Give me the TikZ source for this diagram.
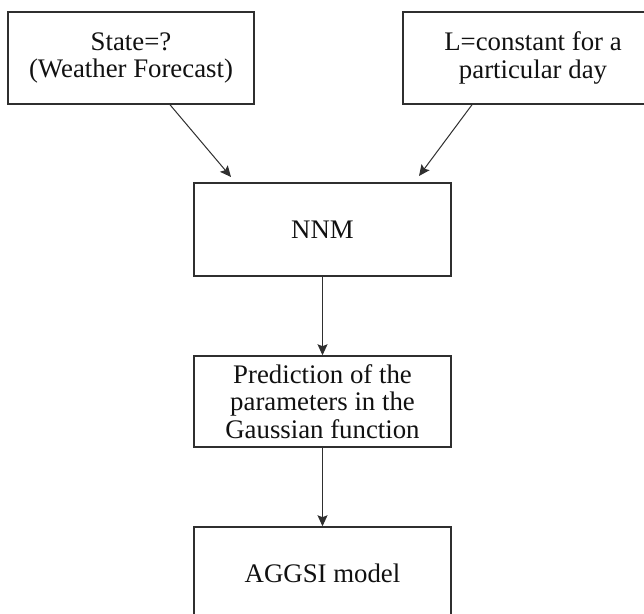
\documentclass[tikz,border=0pt]{standalone}
\usepackage{fontspec}
\setmainfont{Liberation Serif}
\usetikzlibrary{arrows.meta}
\definecolor{linec}{HTML}{2F2F2F}
\definecolor{textc}{HTML}{111111}
\tikzset{
  box/.style={draw=linec, line width=1.5pt, rectangle, align=center, inner sep=0pt,
    text=textc, font=\fontsize{26.8}{27.5}\selectfont},
  arr/.style={draw=linec, line width=1pt, -{Stealth[length=11pt,width=10pt,inset=2pt]}}
}
\begin{document}
\begin{tikzpicture}[x=1pt,y=-1pt]
\path[use as bounding box, clip] (0,0) rectangle (644,613);
\fill[white] (0,0) rectangle (644,613);
\node[box, minimum width=246pt, minimum height=92pt] (tl) at (131,58) {State=?\\(Weather Forecast)};
\node[box, minimum width=260pt, minimum height=92pt] (tr) at (533,58) {L=constant for a\\particular day};
\node[box, minimum width=257pt, minimum height=93pt] (nnm) at (322.5,229.5) {NNM};
\node[box, minimum width=257pt, minimum height=91pt] (pred) at (322.5,401.5) {Prediction of the\\parameters in the\\Gaussian function};
\node[box, minimum width=257pt, minimum height=93pt] (agg) at (322.5,573.5) {AGGSI model};
\coordinate (e1) at (231,177);
\coordinate (e2) at (419,176);
\draw[arr] (tl.south -| 170,0) -- (e1);
\draw[arr] (tr.south -| 472,0) -- (e2);
\draw[arr] (nnm.south) -- (pred.north);
\draw[arr] (pred.south) -- (agg.north);
\end{tikzpicture}
\end{document}
